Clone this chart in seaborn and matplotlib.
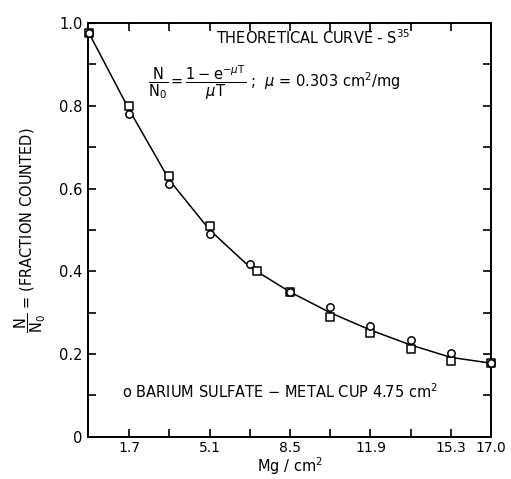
import matplotlib
matplotlib.use("Agg")
import matplotlib.pyplot as plt
import seaborn as sns
import pandas as pd

sns.set_style("ticks")
plt.rcParams['font.family'] = ['DejaVu Sans']
plt.rcParams['mathtext.fontset'] = 'dejavusans'
plt.rcParams['text.color'] = 'black'
plt.rcParams['axes.labelcolor'] = 'black'
plt.rcParams['xtick.color'] = 'black'
plt.rcParams['ytick.color'] = 'black'

# Data
thickness = [0.0, 1.7, 3.4, 5.1, 6.8, 8.5, 10.2, 11.9, 13.6, 15.3, 17.0]
curve = [0.975, 0.79, 0.62, 0.50, 0.41, 0.35, 0.30, 0.258, 0.222, 0.192, 0.178]

circle_x = [0.0, 1.7, 3.4, 5.1, 6.8, 8.5, 10.2, 11.9, 13.6, 15.3, 17.0]
circle_y = [0.975, 0.78, 0.612, 0.49, 0.417, 0.35, 0.314, 0.267, 0.233, 0.202, 0.178]

square_x = [0.0, 1.7, 3.4, 5.1, 7.1, 8.5, 10.2, 11.9, 13.6, 15.3, 17.0]
square_y = [0.975, 0.80, 0.631, 0.51, 0.40, 0.35, 0.29, 0.25, 0.212, 0.183, 0.178]

major_x = [1.7, 5.1, 8.5, 11.9, 15.3, 17.0]
major_x_labels = ["1.7", "5.1", "8.5", "11.9", "15.3", "17.0"]
minor_x = [3.4, 6.8, 10.2, 13.6]
y_ticks = [0, 0.2, 0.4, 0.6, 0.8, 1.0]
y_labels = ["0", "0.2", "0.4", "0.6", "0.8", "1.0"]
y_minor = [0.1, 0.3, 0.5, 0.7, 0.9]

curve_df = pd.DataFrame({"T": thickness, "frac": curve})
circ_df = pd.DataFrame({"T": circle_x, "frac": circle_y})
sq_df = pd.DataFrame({"T": square_x, "frac": square_y})

fig = plt.figure(figsize=(5.11, 4.79), dpi=100)
ax = fig.add_axes([0.172, 0.088, 0.789, 0.864])

sns.lineplot(data=curve_df, x="T", y="frac", ax=ax, color="black", lw=1.1, zorder=2)
sns.scatterplot(data=sq_df, x="T", y="frac", ax=ax, marker="s", s=28,
                facecolor="white", edgecolor="black", linewidth=1.1, zorder=3, clip_on=False)
sns.scatterplot(data=circ_df, x="T", y="frac", ax=ax, marker="o", s=28,
                facecolor="white", edgecolor="black", linewidth=1.1, zorder=4, clip_on=False)

ax.set_xlim(-0.05, 17.0)
ax.set_ylim(0, 1.0)

ax.set_xticks(major_x)
ax.set_xticklabels(major_x_labels, fontsize=10)
ax.set_xticks(minor_x, minor=True)
ax.set_yticks(y_ticks)
ax.set_yticklabels(y_labels, fontsize=10.5)
ax.set_yticks(y_minor, minor=True)
ax.tick_params(axis="both", which="both", direction="in", length=6, width=1.2,
               top=True, right=True, colors="black")
ax.tick_params(axis="x", which="major", pad=3)
ax.tick_params(axis="y", which="major", pad=4)
for s in ax.spines.values():
    s.set_linewidth(1.4)
    s.set_color("black")

ax.set_xlabel(r"Mg / cm$^2$", fontsize=10.5, labelpad=0)
ax.set_ylabel(r"$\dfrac{\mathrm{N}}{\mathrm{N_0}}$ = (FRACTION COUNTED)", fontsize=10.5, labelpad=8)

ax.text(0.56, 0.965, r"THEORETICAL CURVE - S$^{35}$", transform=ax.transAxes,
        ha="center", va="center", fontsize=10.5)
ax.text(0.15, 0.855,
        r"$\dfrac{\mathrm{N}}{\mathrm{N_0}} = \dfrac{1-\mathrm{e}^{-\mu \mathrm{T}}}{\mu \mathrm{T}}$ ;  $\mu$ = 0.303 cm$^2$/mg",
        transform=ax.transAxes, ha="left", va="center", fontsize=10.5)
ax.text(0.085, 0.11, r"o BARIUM SULFATE $-$ METAL CUP 4.75 cm$^2$", transform=ax.transAxes,
        ha="left", va="center", fontsize=10.5)

fig.savefig("out.png", dpi=100)
